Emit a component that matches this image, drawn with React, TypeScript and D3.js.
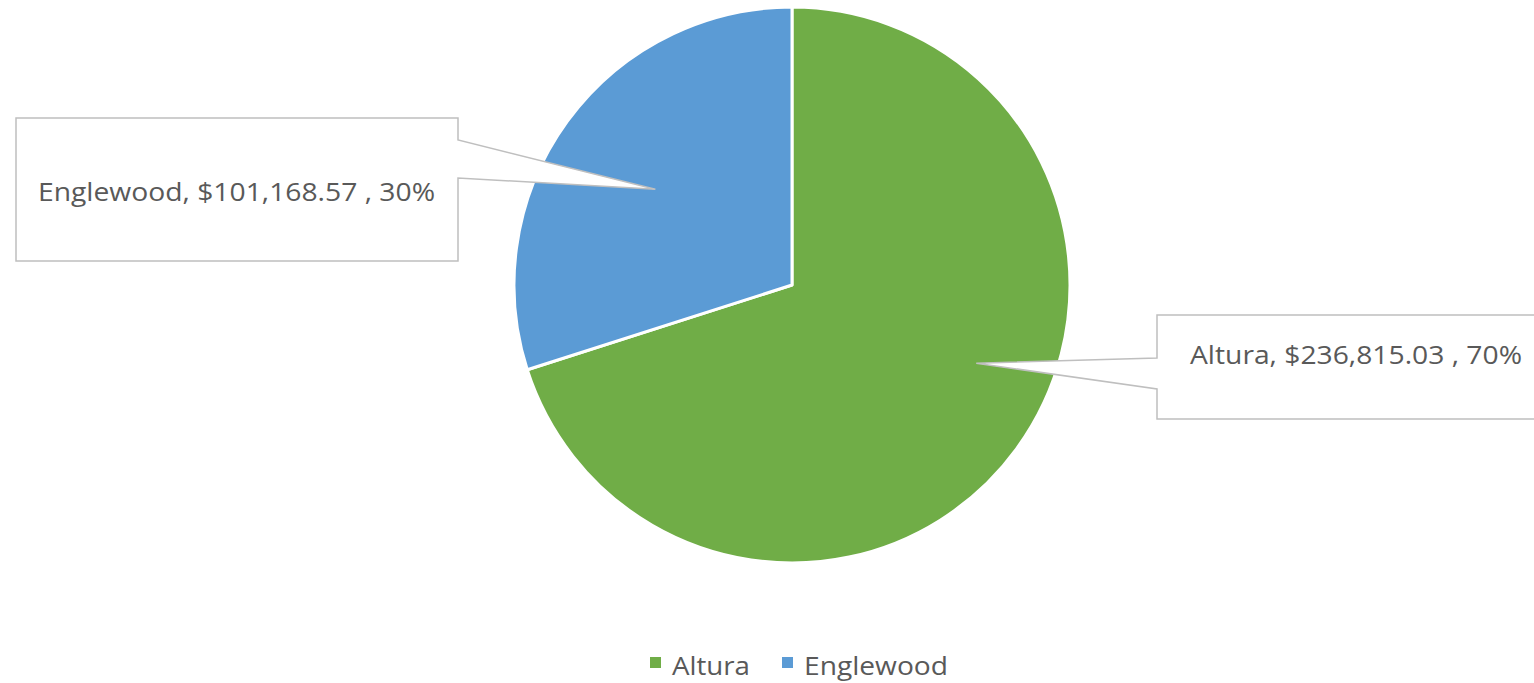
import React, { useEffect } from 'react';
import * as d3 from 'd3';

const categories = ['Altura', 'Englewood'];
const values = [236815.03, 101168.57];
const colors = ['#70AD47', '#5B9BD5'];

const W = 1534;
const H = 683;
const cx = 792;
const cy = 285;
const R = 278;

const fmtMoney = (v: number) => '$' + d3.format(',.2f')(v);

// callout layout: box rect, side the pointer leaves from, anchor inside the slice
const callouts = [
  { box: [1157, 315, 390, 104], side: 'left', gap: [358, 389], anchorAngle: 113, anchorR: 0.72, textX: 1190, textY: 364, textW: 332 },
  { box: [16, 118, 442, 143], side: 'right', gap: [140, 178], anchorAngle: 305, anchorR: 0.6, textX: 38, textY: 201, textW: 397 },
];
const legendX = [650, 782];
const legendW = [78, 144];

export default function App() {
  useEffect(() => {
    document.body.style.margin = '0';
  }, []);

  const total = d3.sum(values);
  const pie = d3.pie<number>().sort(null).value(d => d);
  const arcs = pie(values);
  const arc = d3.arc<d3.PieArcDatum<number>>().innerRadius(0).outerRadius(R);

  return (
    <svg width={W} height={H} style={{ position: 'absolute', left: 0, top: 0, fontFamily: '"Open Sans", sans-serif' }}>
      <rect width={W} height={H} fill="#fff" />
      <g transform={`translate(${cx},${cy})`}>
        {arcs.map((a, i) => (
          <path key={i} d={arc(a) || ''} fill={colors[i]} stroke="#fff" strokeWidth={3} strokeLinejoin="round" />
        ))}
      </g>
      {arcs.map((a, i) => {
        const c = callouts[i];
        const [bx, by, bw, bh] = c.box;
        const t = (c.anchorAngle * Math.PI) / 180;
        const ax = cx + Math.sin(t) * R * c.anchorR;
        const ay = cy - Math.cos(t) * R * c.anchorR;
        let pts: number[][];
        if (c.side === 'left') {
          pts = [[bx, by], [bx + bw, by], [bx + bw, by + bh], [bx, by + bh], [bx, c.gap[1]], [ax, ay], [bx, c.gap[0]]];
        } else {
          pts = [[bx, by], [bx + bw, by], [bx + bw, c.gap[0]], [ax, ay], [bx + bw, c.gap[1]], [bx + bw, by + bh], [bx, by + bh]];
        }
        const pct = Math.round((values[i] / total) * 100);
        return (
          <g key={i}>
            <polygon points={pts.map(p => p.join(',')).join(' ')} fill="#fff" stroke="#BFBFBF" strokeWidth={1.5} />
            <text x={c.textX} y={c.textY} fontSize={26} fill="#595959" textLength={c.textW} lengthAdjust="spacingAndGlyphs">
              {`${categories[i]}, ${fmtMoney(values[i])} , ${pct}%`}
            </text>
          </g>
        );
      })}
      <g>
        {categories.map((name, i) => {
          const x = legendX[i];
          return (
            <g key={name}>
              <rect x={x} y={657} width={11} height={11} fill={colors[i]} />
              <text x={x + 22} y={675} fontSize={26} fill="#595959" textLength={legendW[i]} lengthAdjust="spacingAndGlyphs">{name}</text>
            </g>
          );
        })}
      </g>
    </svg>
  );
}
